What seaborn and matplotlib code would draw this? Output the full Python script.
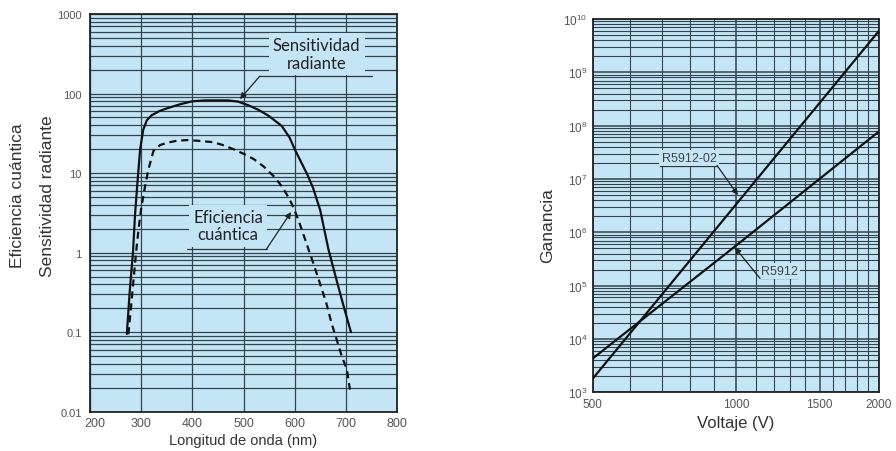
import matplotlib
matplotlib.use("Agg")
import matplotlib.pyplot as plt
import matplotlib.ticker as mticker
import matplotlib.transforms as mtransforms
import numpy as np
import pandas as pd
import seaborn as sns

# ---------------- data ----------------
long_sens = [272, 278, 284, 288, 293, 298, 304, 311, 320, 335, 350, 375, 400, 425,
             450, 470, 490, 510, 530, 550, 575, 590, 600, 612, 625, 636, 650, 666, 680, 695, 710]
sensitividad = [0.095, 0.35, 1.0, 3.0, 8.0, 20, 35, 46, 53, 60, 65, 73, 80, 82,
                82, 82, 79, 71, 62, 52, 39, 28, 20, 14, 9.5, 6.5, 3.4, 1.1, 0.5, 0.22, 0.1]

long_efic = [275, 280, 285, 290, 295, 300, 307, 314, 324, 337, 350, 370, 390, 410, 440,
             460, 480, 500, 520, 540, 560, 575, 590, 600, 610, 625, 636, 650, 662, 672,
             682, 692, 702, 708]
eficiencia = [0.094, 0.2, 0.45, 1.0, 2.0, 3.6, 6.5, 11, 19, 22.5, 24, 25.5, 26, 25.5, 24.5,
              22.5, 20, 17.5, 15, 12, 9.0, 6.8, 4.7, 3.4, 2.3, 1.2, 0.75, 0.4, 0.23, 0.13,
              0.081, 0.05, 0.034, 0.019]

x_ticks_izq = [200, 300, 400, 500, 600, 700, 800]
y_ticks_izq = [0.01, 0.1, 1, 10, 100, 1000]
y_labels_izq = ["0.01", "0.1", "1", "10", "100", "1000"]

voltaje = [500, 1000, 2000]
ganancia_r5912_02 = [1.8e3, 3.3e6, 6.0e9]
ganancia_r5912 = [4.3e3, 5.6e5, 7.8e7]

x_ticks_der = [500, 1000, 1500, 2000]
y_ticks_der = [1e3, 1e4, 1e5, 1e6, 1e7, 1e8, 1e9, 1e10]
y_labels_der = [r"$10^{3}$", r"$10^{4}$", r"$10^{5}$", r"$10^{6}$",
                r"$10^{7}$", r"$10^{8}$", r"$10^{9}$", r"$10^{10}$"]

# ---------------- style ----------------
sns.set_style("white")
plt.rcParams["font.family"] = ["Liberation Sans", "DejaVu Sans"]
plt.rcParams["mathtext.fontset"] = "custom"
plt.rcParams["mathtext.rm"] = "Liberation Sans"
plt.rcParams["mathtext.it"] = "Liberation Sans"

BG = "#c4e5f6"
GRID = "#34444e"
TICK = "#555555"
LAB = "#333333"

fig = plt.figure(figsize=(8.96, 4.52), dpi=100)
ax1 = fig.add_axes([90 / 896, 1 - 412.7 / 452, (397 - 90) / 896, (412.7 - 15) / 452])
ax2 = fig.add_axes([592.7 / 896, 1 - 393.3 / 452, (879 - 592.7) / 896, (393.3 - 20) / 452])

for ax in (ax1, ax2):
    ax.set_facecolor(BG)
    ax.set_axisbelow(True)
    for s in ax.spines.values():
        s.set_color("#222222")
        s.set_linewidth(1.3)
    ax.tick_params(which="both", length=0, colors=TICK)

# ---------------- left panel ----------------
df_s = pd.DataFrame({"x": long_sens, "y": sensitividad})
df_e = pd.DataFrame({"x": long_efic, "y": eficiencia})
sns.lineplot(data=df_s, x="x", y="y", ax=ax1, color="#111111", lw=1.6,
             estimator=None, sort=False, zorder=3)
sns.lineplot(data=df_e, x="x", y="y", ax=ax1, color="#111111", lw=1.6,
             estimator=None, sort=False, zorder=3, dashes=False)
ax1.lines[-1].set_dashes([3.2, 2.2])

ax1.set_yscale("log")
ax1.set_xlim(200, 800)
ax1.set_ylim(0.01, 1000)
ax1.xaxis.set_major_locator(mticker.FixedLocator(x_ticks_izq))
ax1.yaxis.set_major_locator(mticker.FixedLocator(y_ticks_izq))
ax1.yaxis.set_major_formatter(mticker.FixedFormatter(y_labels_izq))
ax1.yaxis.set_minor_locator(mticker.LogLocator(base=10, subs=np.arange(2, 10)))
ax1.yaxis.set_minor_formatter(mticker.NullFormatter())
ax1.grid(True, which="both", color=GRID, lw=0.9)
ax1.tick_params(axis="y", labelsize=8, pad=6)
ax1.tick_params(axis="x", labelsize=9, pad=4)
lbl0 = ax1.get_xticklabels()[0]
lbl0.set_transform(lbl0.get_transform() + mtransforms.ScaledTranslation(5 / 100, 0, fig.dpi_scale_trans))
ax1.set_xlabel("Longitud de onda (nm)", fontsize=10.5, color=LAB, labelpad=3)
ax1.set_ylabel("")
fig.text(18 / 896, 1 - 196 / 452, "Eficiencia cuántica", rotation=90, fontsize=12.5,
         color=LAB, ha="center", va="center")
fig.text(47 / 896, 1 - 196 / 452, "Sensitividad radiante", rotation=90, fontsize=12.5,
         color=LAB, ha="center", va="center")

ANN = dict(color="#333333", lw=0.9, zorder=4)
# Sensitividad radiante
ax1.text(643, 314, "Sensitividad\nradiante", ha="center", va="center", fontsize=12,
         family=["Lato", "DejaVu Sans"], color="#222222", linespacing=1.12, zorder=5,
         bbox=dict(facecolor=BG, edgecolor="none", pad=3))
ax1.plot([532, 751], [166, 166], **ANN)
ax1.annotate("", xy=(493, 85), xytext=(532, 166),
             arrowprops=dict(arrowstyle="-|>", color="#222222", lw=0.9,
                             mutation_scale=9, shrinkA=0, shrinkB=0), zorder=5)
# Eficiencia cuantica
ax1.text(470, 2.18, "Eficiencia\ncuántica", ha="center", va="center", fontsize=12,
         family=["Lato", "DejaVu Sans"], color="#222222", linespacing=1.12, zorder=5,
         bbox=dict(facecolor=BG, edgecolor="none", pad=3))
ax1.plot([389, 545], [1.11, 1.11], **ANN)
ax1.annotate("", xy=(593, 3.24), xytext=(545, 1.11),
             arrowprops=dict(arrowstyle="-|>", color="#222222", lw=0.9,
                             mutation_scale=9, shrinkA=0, shrinkB=0), zorder=5)

# ---------------- right panel ----------------
df_g = pd.DataFrame({
    "Voltaje": voltaje * 2,
    "Ganancia": ganancia_r5912_02 + ganancia_r5912,
    "Tipo": ["R5912-02"] * len(voltaje) + ["R5912"] * len(voltaje),
})
sns.lineplot(data=df_g, x="Voltaje", y="Ganancia", units="Tipo", estimator=None,
             ax=ax2, color="#111111", lw=1.6, legend=False, zorder=3)
ax2.set_xscale("log")
ax2.set_yscale("log")
ax2.set_xlim(500, 2000)
ax2.set_ylim(1e3, 1e10)
ax2.xaxis.set_major_locator(mticker.FixedLocator(x_ticks_der))
ax2.xaxis.set_major_formatter(mticker.FixedFormatter([str(v) for v in x_ticks_der]))
ax2.xaxis.set_minor_locator(mticker.FixedLocator([v for v in range(600, 2000, 100)
                                                  if v not in x_ticks_der]))
ax2.xaxis.set_minor_formatter(mticker.NullFormatter())
ax2.yaxis.set_major_locator(mticker.FixedLocator(y_ticks_der))
ax2.yaxis.set_major_formatter(mticker.FixedFormatter(y_labels_der))
ax2.yaxis.set_minor_locator(mticker.LogLocator(base=10, subs=np.arange(2, 10)))
ax2.yaxis.set_minor_formatter(mticker.NullFormatter())
ax2.grid(True, which="major", color=GRID, lw=1.1)
ax2.grid(True, which="minor", color=GRID, lw=0.8)
ax2.tick_params(axis="both", labelsize=8.5, pad=4)
ax2.set_xlabel("Voltaje (V)", fontsize=12, color=LAB, labelpad=4)
ax2.set_ylabel("")
fig.text(548 / 896, 1 - 226 / 452, "Ganancia", rotation=90, fontsize=12.5,
         color=LAB, ha="center", va="center")

# R5912-02
ax2.text(797, 2.48e7, "R5912-02", ha="center", va="center", fontsize=9,
         color="#444444", zorder=5, bbox=dict(facecolor=BG, edgecolor="none", pad=1.5))
ax2.plot([693, 913], [1.79e7, 1.79e7], **ANN)
ax2.annotate("", xy=(1010, 5.0e6), xytext=(913, 1.79e7),
             arrowprops=dict(arrowstyle="-|>", color="#222222", lw=0.9,
                             mutation_scale=9, shrinkA=0, shrinkB=0), zorder=5)
# R5912
ax2.text(1237, 1.91e5, "R5912", ha="center", va="center", fontsize=9,
         color="#444444", zorder=5, bbox=dict(facecolor=BG, edgecolor="none", pad=1.5))
ax2.plot([1124, 1350], [1.37e5, 1.37e5], **ANN)
ax2.annotate("", xy=(995, 5.2e5), xytext=(1124, 1.37e5),
             arrowprops=dict(arrowstyle="-|>", color="#222222", lw=0.9,
                             mutation_scale=9, shrinkA=0, shrinkB=0), zorder=5)

fig.savefig("out.png", dpi=100, facecolor="white")
